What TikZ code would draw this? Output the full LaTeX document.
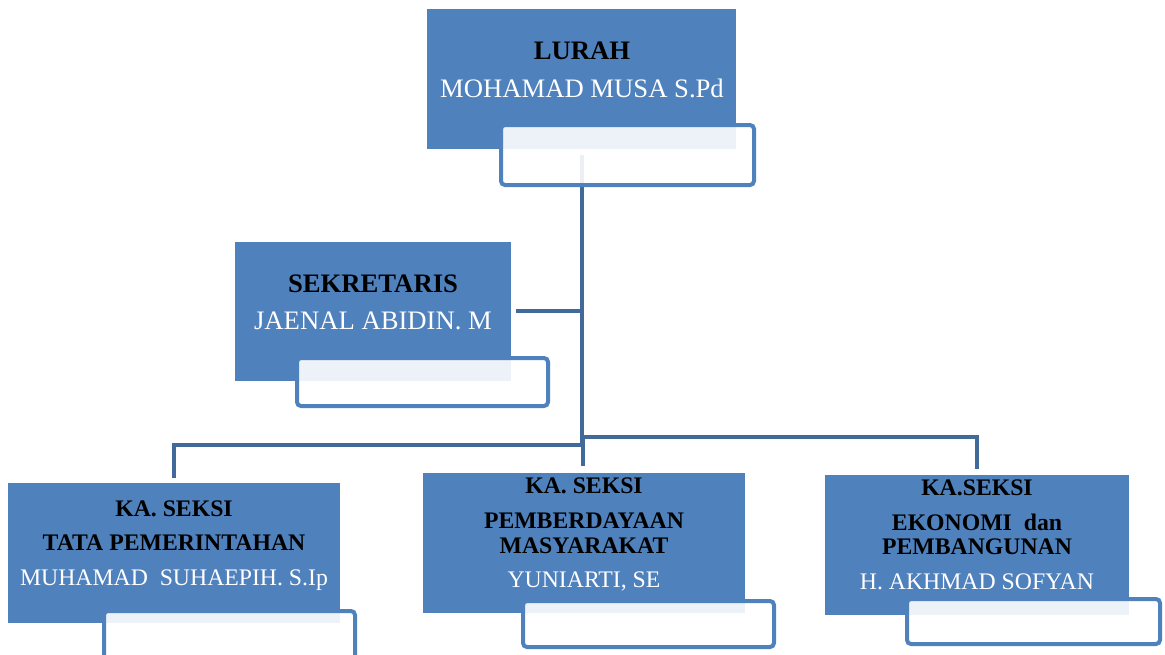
\documentclass[tikz,border=0pt]{standalone}
\usepackage{fontspec}
\setmainfont{Liberation Serif}
\definecolor{boxblue}{HTML}{4F81BD}
\definecolor{lineblue}{HTML}{41699A}
\begin{document}
\begin{tikzpicture}[x=0.75pt,y=-0.75pt,
  bluebox/.style={fill=boxblue,draw=none,inner sep=0pt,anchor=north west},
  whitebox/.style={fill=white,fill opacity=0.9,draw=boxblue,draw opacity=1,line width=3pt,rounded corners=3pt,inner sep=0pt,anchor=north west},
  conn/.style={draw=lineblue,line width=3.2pt},
  ttl/.style={anchor=base,inner sep=0pt,font=\fontsize{20}{22}\selectfont\bfseries,text=black},
  nm/.style={anchor=base,inner sep=0pt,font=\fontsize{20}{22}\selectfont,text=white},
  ttls/.style={anchor=base,inner sep=0pt,font=\fontsize{17.8}{20}\selectfont\bfseries,text=black},
  nms/.style={anchor=base,inner sep=0pt,font=\fontsize{17.8}{20}\selectfont,text=white}]
\useasboundingbox (0,0) rectangle (1165,654);
% connector coordinates
\coordinate (topstart) at (582,155);
\coordinate (sekend) at (516,311);
\coordinate (sekj) at (582,311);
\coordinate (mainj) at (582,445);
\coordinate (leftc) at (174,445);
\coordinate (leftend) at (174,478);
\coordinate (rightj) at (583,437);
\coordinate (rightc) at (977,437);
\coordinate (rightend) at (977,469);
\coordinate (midend) at (583,466);
% connectors
\draw[conn] (topstart) -- (mainj) -- (leftc) -- (leftend);
\draw[conn] (sekend) -- (sekj);
\draw[conn] (midend) -- (rightj) -- (rightc) -- (rightend);
% boxes
\node[bluebox,minimum width=309*0.75pt,minimum height=140*0.75pt] (lurahbox) at (427,9) {};
\node[whitebox,minimum width=253*0.75pt,minimum height=60*0.75pt] (lurahtab) at (499,123) {};
\node[bluebox,minimum width=276*0.75pt,minimum height=139*0.75pt] (sekbox) at (235,242) {};
\node[whitebox,minimum width=251*0.75pt,minimum height=48*0.75pt] (sektab) at (295,356) {};
\node[bluebox,minimum width=332*0.75pt,minimum height=140*0.75pt] (b1box) at (8,483) {};
\node[whitebox,minimum width=251*0.75pt,minimum height=52*0.75pt] (b1tab) at (102,609) {};
\node[bluebox,minimum width=322*0.75pt,minimum height=140*0.75pt] (b2box) at (423,473) {};
\node[whitebox,minimum width=251*0.75pt,minimum height=46*0.75pt] (b2tab) at (521,599) {};
\node[bluebox,minimum width=304*0.75pt,minimum height=140*0.75pt] (b3box) at (825,475) {};
\node[whitebox,minimum width=253*0.75pt,minimum height=45*0.75pt] (b3tab) at (905,597) {};
% texts
\node[ttl] (t1) at (582,59) {LURAH};
\node[nm] (n1) at (582,97) {MOHAMAD MUSA S.Pd};
\node[ttl] (t2) at (373,292) {SEKRETARIS};
\node[nm] (n2) at (373,329) {JAENAL ABIDIN. M};
\node[ttls] (t3a) at (174,516) {KA. SEKSI};
\node[ttls] (t3b) at (174,550) {TATA PEMERINTAHAN};
\node[nms] (n3) at (174,585) {MUHAMAD\ \ SUHAEPIH. S.Ip};
\node[ttls] (t4a) at (584,493) {KA. SEKSI};
\node[ttls] (t4b) at (584,528) {PEMBERDAYAAN};
\node[ttls] (t4c) at (584,553) {MASYARAKAT};
\node[nms] (n4) at (584,587) {YUNIARTI, SE};
\node[ttls] (t5a) at (977,495) {KA.SEKSI};
\node[ttls] (t5b) at (977,530) {EKONOMI\ \ dan};
\node[ttls] (t5c) at (977,554) {PEMBANGUNAN};
\node[nms] (n5) at (977,589) {H. AKHMAD SOFYAN};
\end{tikzpicture}
\end{document}
